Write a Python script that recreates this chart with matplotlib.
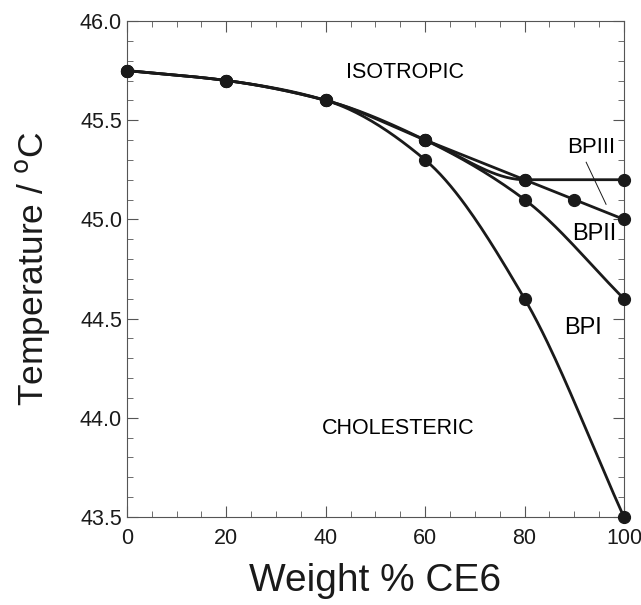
import numpy as np
import matplotlib
matplotlib.use("Agg")
import matplotlib.pyplot as plt
from matplotlib.ticker import MultipleLocator

plt.rcParams['font.family'] = ['Liberation Sans', 'DejaVu Sans']

# phase boundaries (weight % CE6 vs temperature)
x_main = [0, 20, 40, 60, 80, 100]
y_bpi = [45.75, 45.7, 45.6, 45.3, 44.6, 43.5]
y_bpii = [45.75, 45.7, 45.6, 45.4, 45.1, 44.6]
y_iso = [45.75, 45.7, 45.6, 45.4, 45.2, 45.2]
x_b23 = [60, 80, 90, 100]
y_b23 = [45.4, 45.2, 45.1, 45.0]


def smooth(x, y, n=40):
    # monotone cubic (pchip) through the points, no overshoot
    x = np.asarray(x, float)
    y = np.asarray(y, float)
    h = np.diff(x)
    d = np.diff(y) / h
    m = np.zeros_like(y)
    m[0], m[-1] = d[0], d[-1]
    for k in range(1, len(x)-1):
        if d[k-1]*d[k] > 0:
            w1 = 2*h[k] + h[k-1]
            w2 = h[k] + 2*h[k-1]
            m[k] = (w1 + w2) / (w1/d[k-1] + w2/d[k])
    xs, ys = [], []
    t = np.linspace(0, 1, n)
    for k in range(len(x)-1):
        h00 = 2*t**3 - 3*t**2 + 1
        h10 = t**3 - 2*t**2 + t
        h01 = -2*t**3 + 3*t**2
        h11 = t**3 - t**2
        xs.extend(x[k] + t*h[k])
        ys.extend(h00*y[k] + h10*h[k]*m[k] + h01*y[k+1] + h11*h[k]*m[k+1])
    return xs, ys


fig = plt.figure(figsize=(6.41, 6.05), dpi=100)
ax = fig.add_axes([0.198, 0.1455, 0.7754, 0.8198])

for xx, yy in [(x_main, y_bpi), (x_main, y_bpii), (x_main, y_iso), (x_b23, y_b23)]:
    sx, sy = smooth(xx, yy)
    ax.plot(sx, sy, color='#1a1a1a', lw=2, clip_on=False)
    ax.plot(xx, yy, 'o', color='#1a1a1a', ms=8.5, clip_on=False, zorder=5)

ax.set_xlim(0, 100)
ax.set_ylim(43.5, 46.0)
ax.xaxis.set_major_locator(MultipleLocator(20))
ax.xaxis.set_minor_locator(MultipleLocator(5))
ax.yaxis.set_major_locator(MultipleLocator(0.5))
ax.yaxis.set_minor_locator(MultipleLocator(0.1))
ax.set_yticks([43.5, 44.0, 44.5, 45.0, 45.5, 46.0])
ax.set_yticklabels(['43.5', '44.0', '44.5', '45.0', '45.5', '46.0'])
ax.tick_params(which='both', direction='in', top=True, right=True, labelsize=15.5,
               color='#555555', labelcolor='#1a1a1a')
ax.tick_params(axis='x', pad=8)
ax.tick_params(which='major', length=8)
ax.tick_params(which='minor', length=4)
for s in ax.spines.values():
    s.set_color('#555555')

ax.set_xlabel('Weight % CE6', fontsize=28, labelpad=10, color='#1a1a1a')
ax.set_ylabel('Temperature / $^{\\mathrm{o}}$C', fontsize=25.5, labelpad=20, color='#1a1a1a')

ax.text(56, 45.74, 'ISOTROPIC', fontsize=15.5, ha='center', va='center')
ax.text(54.5, 43.944, 'CHOLESTERIC', fontsize=15.5, ha='center', va='center')
ax.text(93.4, 45.364, 'BPIII', fontsize=16, ha='center', va='center')
ax.text(94.1, 44.924, 'BPII', fontsize=17, ha='center', va='center')
ax.text(91.7, 44.455, 'BPI', fontsize=17, ha='center', va='center')
ax.plot([92.4, 96.4], [45.288, 45.076], color='#1a1a1a', lw=0.7)

fig.savefig('out.png', dpi=100)
